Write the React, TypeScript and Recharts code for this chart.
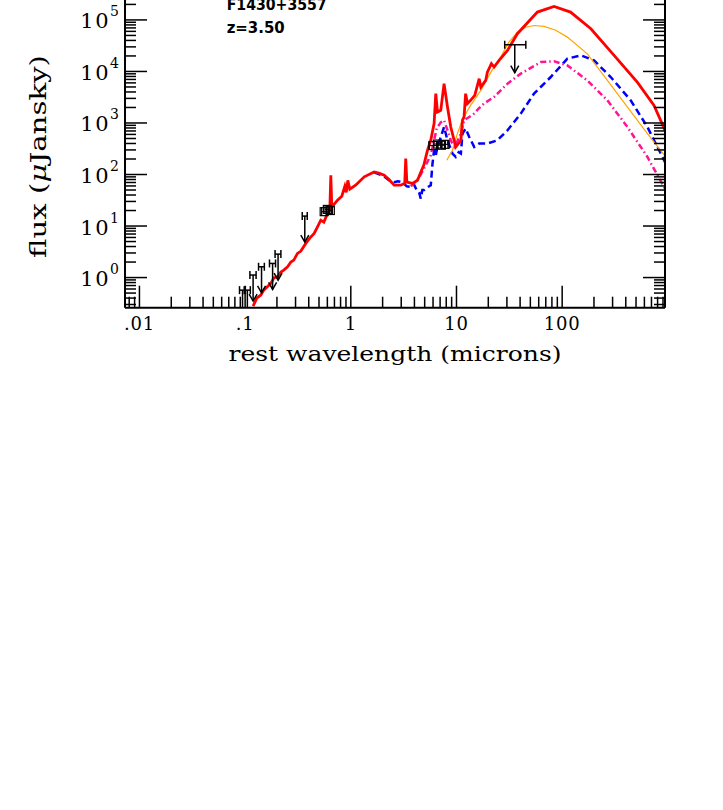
import React from 'react';
import { ComposedChart, Line, Scatter, XAxis, YAxis, ErrorBar } from 'recharts';

// ---- model curves: [rest wavelength (micron), flux (microJansky)] ----
const totalModel: [number, number][] = [
  [0.119, 0.28], [0.129, 0.4], [0.141, 0.46], [0.15, 0.57], [0.164, 0.68], [0.175, 0.77],
  [0.187, 0.98], [0.203, 1.04], [0.218, 1.28], [0.232, 1.4], [0.252, 1.62], [0.271, 2.0],
  [0.289, 2.18], [0.313, 2.94], [0.337, 3.26], [0.375, 4.6], [0.409, 5.83], [0.45, 7.2],
  [0.488, 9.95], [0.52, 13], [0.556, 11.9], [0.602, 17.5], [0.633, 20.3], [0.647, 97],
  [0.661, 23.2], [0.748, 31.8], [0.822, 38], [0.878, 59], [0.906, 45], [0.937, 77],
  [0.978, 52], [1.11, 62], [1.34, 90], [1.66, 112], [1.84, 106], [2.07, 97], [2.29, 81],
  [2.57, 62], [2.97, 62], [3.24, 68], [3.31, 204], [3.39, 71], [3.84, 67], [4.28, 77.5],
  [4.59, 111], [4.91, 152], [5.32, 296], [5.71, 462], [6.14, 973], [6.37, 3700],
  [6.61, 1630], [7.1, 1760], [7.63, 5800], [8.22, 2040], [8.83, 836], [9.85, 343],
  [10.5, 404], [11.0, 462], [11.4, 1130], [11.8, 1310], [12.2, 3700], [12.7, 2380],
  [13.6, 2750], [14.9, 3440], [16.4, 7250], [17.0, 4990], [18.9, 6700], [19.6, 9700],
  [21.4, 14200], [22.7, 12200], [25.3, 16400], [30.4, 25600], [37.7, 54000],
  [58.3, 142000], [83.8, 183000], [120, 142000], [187, 67500], [310, 20500],
  [516, 6150], [740, 2200], [955, 670],
];

const starburstModel: [number, number][] = [
  [8.1, 189], [9.16, 296], [10.2, 623], [11.5, 1230], [13.6, 2200], [17.0, 4300],
  [21.1, 9600], [26.2, 19000], [31.2, 36600], [37.7, 58000], [45.3, 72000], [54.2, 78000],
  [67.4, 75000], [87, 63000], [112, 46400], [173, 22000], [268, 6700], [415, 2040],
  [641, 623], [955, 219],
];

const agnModel: [number, number][] = [
  [3.7, 59], [4.4, 85], [5.13, 152], [5.71, 237], [6.14, 462], [6.51, 789], [7.1, 1030],
  [7.63, 1130], [8.22, 722], [8.83, 462], [9.49, 343], [10.3, 462], [11.0, 623],
  [11.8, 1130], [13.1, 1290], [14.7, 1520], [16.3, 1930], [18.2, 2380], [22.7, 3200],
  [30.4, 5800], [40.6, 9060], [62.8, 15200], [83.8, 15700], [112, 13100], [173, 6700],
  [268, 2750], [415, 836], [641, 219], [955, 49.6],
];

const coldModel: [number, number][] = [
  [1.66, 110], [2.07, 92], [2.29, 77.5], [2.57, 71], [2.79, 74], [3.08, 71], [3.39, 59],
  [3.7, 57.5], [3.95, 65], [4.12, 54], [4.43, 45], [4.59, 34], [4.75, 50], [4.93, 50],
  [5.35, 57], [5.71, 62], [5.93, 163], [6.14, 296], [6.37, 237], [6.61, 343], [7.1, 535],
  [7.63, 836], [8.22, 462], [9.16, 255], [9.85, 219], [10.5, 270], [11.0, 255],
  [11.4, 623], [12.2, 778], [13.2, 535], [14.7, 343], [16.4, 399], [19.6, 399],
  [24.4, 462], [30.4, 722], [40.6, 1520], [54.2, 3720], [78, 7800], [112, 17700],
  [150, 20500], [200, 16400], [288, 7800], [445, 2750], [641, 836], [955, 163],
];

// ---- photometry ----
const uvLimitWave = [0.0945, 0.105, 0.119, 0.143, 0.182, 0.205, 0.367];
const uvLimitFlux = [0.57, 0.57, 1.12, 1.62, 1.88, 2.85, 15.6];
const uvLimitErr = [0.006, 0.007, 0.008, 0.009, 0.012, 0.013, 0.02];

const optWave = [0.56, 0.6, 0.64];
const optFlux = [19, 21, 20];
const optErr = [0.03, 0.03, 0.03];

const midWave = [6.0, 6.6, 7.2, 7.8];
const midFlux = [365, 390, 370, 385];
const midErr = [0.5, 0.5, 0.5, 0.5];

const firWave = [35.6];
const firFlux = [33000];
const firErrLow = [7.0];
const firErrHigh = [9.7];

// ---- ticks ----
const xMajorTicks = [0.01, 0.1, 1, 10, 100];
const xMajorLabels = ['.01', '.1', '1', '10', '100'];
const yMajorTicks = [1, 10, 100, 1000, 10000, 100000, 1000000];
const yMajorExps = ['0', '1', '2', '3', '4', '5'];

const round = (v: number) => Number(v.toPrecision(6));
const xTicks: number[] = [0.008, 0.009];
[0.01, 0.1, 1, 10, 100].forEach((d) => {
  xTicks.push(d);
  for (let k = 2; k <= 9; k++) xTicks.push(round(k * d));
});
const yTicks: number[] = [];
[0.1, 1, 10, 100, 1000, 10000, 100000].forEach((d) => {
  if (d >= 1) yTicks.push(d);
  for (let k = d < 1 ? 3 : 2; k <= 9; k++) yTicks.push(round(k * d));
});
yTicks.push(1000000);

const toPts = (arr: [number, number][]) => arr.map(([x, y]) => ({ x, y }));
const uvLimits = uvLimitWave.map((x, i) => ({ x, y: uvLimitFlux[i], xErr: uvLimitErr[i] }));
const optPoints = optWave.map((x, i) => ({ x, y: optFlux[i], xErr: optErr[i] }));
const midPoints = midWave.map((x, i) => ({ x, y: midFlux[i], xErr: midErr[i] }));
const firLimits = firWave.map((x, i) => ({ x, y: firFlux[i], xErr: [firErrLow[i], firErrHigh[i]] }));

const SERIF = '"DejaVu Serif", serif';

const XTick = (props: any) => {
  const { x, y, payload } = props;
  const idx = xMajorTicks.indexOf(payload.value);
  const major = idx >= 0;
  return (
    <g>
      <line x1={x} x2={x} y1={y} y2={y - (major ? 22 : 11)} stroke="#000" strokeWidth={1.5} />
      {major && (
        <text x={x} y={y + 22.5} textAnchor="middle" fontFamily={SERIF} fontSize={18} letterSpacing={0.8} fill="#000">
          {xMajorLabels[idx]}
        </text>
      )}
    </g>
  );
};

const YTickLeft = (props: any) => {
  const { x, y, payload } = props;
  const idx = yMajorTicks.indexOf(payload.value);
  const major = idx >= 0;
  const showLabel = major && idx < yMajorExps.length;
  return (
    <g>
      <line x1={x} x2={x + (major ? 22 : 11)} y1={y} y2={y} stroke="#000" strokeWidth={1.5} />
      {showLabel && (
        <text x={x - 6} y={y + 8.5} textAnchor="end" fontFamily={SERIF} fontSize={21} fill="#000">
          <tspan letterSpacing={1.5}>10</tspan>
          <tspan dy={-12} fontSize={14}>{yMajorExps[idx]}</tspan>
        </text>
      )}
    </g>
  );
};

const YTickRight = (props: any) => {
  const { x, y, payload } = props;
  const major = yMajorTicks.indexOf(payload.value) >= 0;
  return <line x1={x} x2={x - (major ? 22 : 11)} y1={y} y2={y} stroke="#000" strokeWidth={1.5} />;
};

const makeLimitShape = (len: number) => (props: any) => {
  const { cx, cy } = props;
  if (cx == null || cy == null) return <g />;
  return (
    <g>
      <line x1={cx} x2={cx} y1={cy} y2={cy + len} stroke="#000" strokeWidth={1.5} />
      <polyline
        points={`${cx - 4},${cy + len - 7} ${cx},${cy + len} ${cx + 4},${cy + len - 7}`}
        fill="none"
        stroke="#000"
        strokeWidth={1.5}
      />
    </g>
  );
};

const SquareShape = (props: any) => {
  const { cx, cy } = props;
  if (cx == null || cy == null) return <g />;
  return <rect x={cx - 4} y={cy - 4} width={8} height={8} fill="none" stroke="#000" strokeWidth={1.2} />;
};

const xLabel = (p: any) => {
  const vb = p.viewBox || { x: 125, y: 347.7, width: 540 };
  return (
    <g>
      <text
        x={vb.x + vb.width / 2}
        y={vb.y + 53.5}
        textAnchor="middle"
        fontFamily={SERIF}
        fontSize={21}
        textLength={333}
        lengthAdjust="spacingAndGlyphs"
        fill="#000"
      >
        rest wavelength (microns)
      </text>
      <text x={226.7} y={50} fontFamily='"DejaVu Sans", sans-serif' fontWeight="bold" fontSize={15}
        textLength={100} lengthAdjust="spacingAndGlyphs" fill="#000">
        F1430+3557
      </text>
      <text x={226.7} y={73} fontFamily='"DejaVu Sans", sans-serif' fontWeight="bold" fontSize={15}
        textLength={58} lengthAdjust="spacingAndGlyphs" fill="#000">
        z=3.50
      </text>
    </g>
  );
};

const yLabel = () => (
  <text
    x={46}
    y={196.5}
    transform="rotate(-90, 46, 196.5)"
    textAnchor="middle"
    fontFamily={SERIF}
    fontSize={22}
    textLength={203}
    lengthAdjust="spacingAndGlyphs"
    fill="#000"
  >
    flux (<tspan fontStyle="italic">μ</tspan>Jansky)
  </text>
);

export default function App() {
  return (
    <div style={{ position: 'absolute', left: 0, top: -40, width: 723, height: 420 }}>
      <ComposedChart width={723} height={420} margin={{ top: 8.4, right: 0, left: 65, bottom: 12.3 }}>
        <XAxis
          dataKey="x"
          type="number"
          scale="log"
          domain={[0.0073, 940]}
          allowDataOverflow
          ticks={xTicks}
          interval={0}
          tickSize={0}
          tickMargin={0}
          tick={XTick}
          axisLine={{ stroke: '#000', strokeWidth: 2 }}
          height={60}
          label={xLabel}
        />
        <YAxis
          yAxisId="l"
          dataKey="y"
          type="number"
          scale="log"
          domain={[0.26, 1000000]}
          allowDataOverflow
          ticks={yTicks}
          interval={0}
          tickSize={0}
          tickMargin={0}
          tick={YTickLeft}
          axisLine={{ stroke: '#000', strokeWidth: 2 }}
          width={60}
          label={yLabel}
        />
        <YAxis
          yAxisId="r"
          dataKey="y"
          orientation="right"
          type="number"
          scale="log"
          domain={[0.26, 1000000]}
          allowDataOverflow
          ticks={yTicks}
          interval={0}
          tickSize={0}
          tickMargin={0}
          tick={YTickRight}
          axisLine={{ stroke: '#000', strokeWidth: 2 }}
          width={58}
        />
        <Line yAxisId="l" data={toPts(coldModel)} dataKey="y" type="linear" stroke="#0000ff" strokeWidth={2.5}
          strokeDasharray="7 4" dot={false} isAnimationActive={false} />
        <Line yAxisId="l" data={toPts(agnModel)} dataKey="y" type="linear" stroke="#ff1493" strokeWidth={2.5}
          strokeDasharray="6 3 1.5 3" dot={false} isAnimationActive={false} />
        <Line yAxisId="l" data={toPts(starburstModel)} dataKey="y" type="linear" stroke="#ffa500" strokeWidth={1.2}
          dot={false} isAnimationActive={false} />
        <Line yAxisId="l" data={toPts(totalModel)} dataKey="y" type="linear" stroke="#ff0000" strokeWidth={2.8}
          dot={false} isAnimationActive={false} />
        <Scatter yAxisId="l" data={uvLimits} dataKey="y" shape={makeLimitShape(26)} isAnimationActive={false}>
          <ErrorBar dataKey="xErr" direction="x" width={4} stroke="#000" strokeWidth={1.5} />
        </Scatter>
        <Scatter yAxisId="l" data={firLimits} dataKey="y" shape={makeLimitShape(28)} isAnimationActive={false}>
          <ErrorBar dataKey="xErr" direction="x" width={4} stroke="#000" strokeWidth={1.5} />
        </Scatter>
        <Scatter yAxisId="l" data={optPoints} dataKey="y" shape={SquareShape} isAnimationActive={false}>
          <ErrorBar dataKey="xErr" direction="x" width={4} stroke="#000" strokeWidth={1.2} />
        </Scatter>
        <Scatter yAxisId="l" data={midPoints} dataKey="y" shape={SquareShape} isAnimationActive={false}>
          <ErrorBar dataKey="xErr" direction="x" width={4} stroke="#000" strokeWidth={1.2} />
        </Scatter>
      </ComposedChart>
    </div>
  );
}
